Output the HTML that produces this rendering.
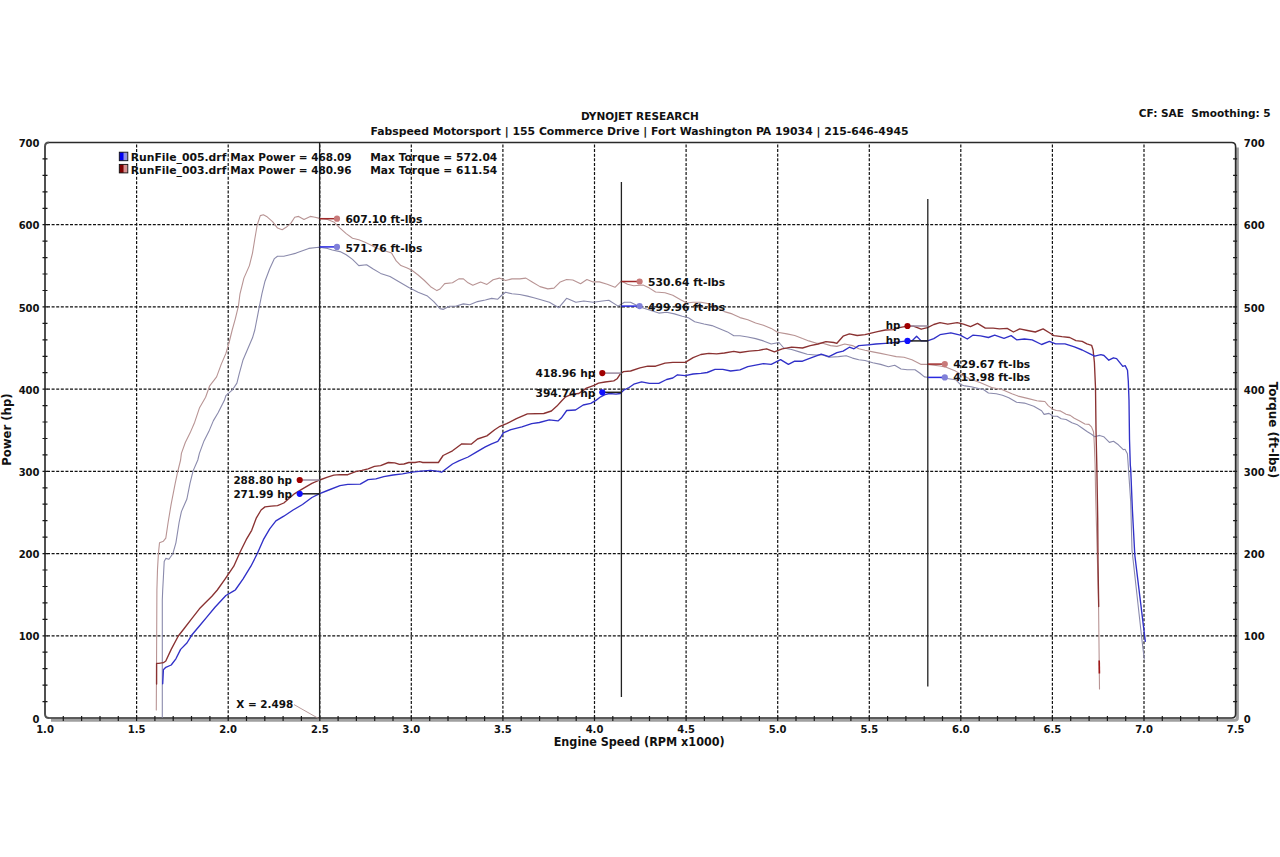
<!DOCTYPE html><html><head><meta charset="utf-8"><style>
html,body{margin:0;padding:0;background:#fff;width:1280px;height:857px;overflow:hidden}
svg{display:block}
text{font-family:"DejaVu Sans","Liberation Sans",sans-serif;font-weight:bold;font-size:10px;fill:#111}
</style></head><body>
<svg width="1280" height="857" viewBox="0 0 1280 857">
<text x="580.9" y="119.8" textLength="118.0" lengthAdjust="spacingAndGlyphs" style="font-size:10px" xml:space="preserve" >DYNOJET RESEARCH</text>
<text x="370.5" y="134.6" textLength="538.0" lengthAdjust="spacingAndGlyphs" style="font-size:10px" xml:space="preserve" >Fabspeed Motorsport | 155 Commerce Drive | Fort Washington PA 19034 | 215-646-4945</text>
<text x="1138.8" y="117.1" textLength="131.9" lengthAdjust="spacingAndGlyphs" style="font-size:10px" xml:space="preserve" >CF: SAE  Smoothing: 5</text>
<path d="M47.0,635.8H1234.6M47.0,553.6H1234.6M47.0,471.4H1234.6M47.0,389.1H1234.6M47.0,306.9H1234.6M47.0,224.7H1234.6M136.6,144.5V717.0M228.2,144.5V717.0M319.8,144.5V717.0M411.3,144.5V717.0M502.9,144.5V717.0M594.5,144.5V717.0M686.1,144.5V717.0M777.7,144.5V717.0M869.3,144.5V717.0M960.8,144.5V717.0M1052.4,144.5V717.0M1144.0,144.5V717.0" stroke="#111" stroke-width="1.2" stroke-dasharray="3,1.6" fill="none"/>
<path d="M1237.3999999999999,147.5V718.0Q1237.3999999999999,720.3 1234.6,720.3H51.0" stroke="#a0a0a0" stroke-width="3" fill="none"/>
<path d="M49.0,142.5H1231.6Q1235.6,142.5 1235.6,146.5V714.0Q1235.6,718.0 1231.6,718.0H49.0" stroke="#2a2a2a" stroke-width="1.6" fill="none"/>
<path d="M49.0,142.5Q45.0,142.5 45.0,146.5V714.0Q45.0,718.0 49.0,718.0" stroke="#505050" stroke-width="2" fill="none"/>
<path d="M42.5,701.6h5M1233.1,701.6h4M42.5,685.1h5M1233.1,685.1h4M42.5,668.7h5M1233.1,668.7h4M42.5,652.2h5M1233.1,652.2h4M42.5,635.8h5M1233.1,635.8h4M42.5,619.3h5M1233.1,619.3h4M42.5,602.9h5M1233.1,602.9h4M42.5,586.5h5M1233.1,586.5h4M42.5,570.0h5M1233.1,570.0h4M42.5,553.6h5M1233.1,553.6h4M42.5,537.1h5M1233.1,537.1h4M42.5,520.7h5M1233.1,520.7h4M42.5,504.2h5M1233.1,504.2h4M42.5,487.8h5M1233.1,487.8h4M42.5,471.4h5M1233.1,471.4h4M42.5,454.9h5M1233.1,454.9h4M42.5,438.5h5M1233.1,438.5h4M42.5,422.0h5M1233.1,422.0h4M42.5,405.6h5M1233.1,405.6h4M42.5,389.1h5M1233.1,389.1h4M42.5,372.7h5M1233.1,372.7h4M42.5,356.3h5M1233.1,356.3h4M42.5,339.8h5M1233.1,339.8h4M42.5,323.4h5M1233.1,323.4h4M42.5,306.9h5M1233.1,306.9h4M42.5,290.5h5M1233.1,290.5h4M42.5,274.0h5M1233.1,274.0h4M42.5,257.6h5M1233.1,257.6h4M42.5,241.2h5M1233.1,241.2h4M42.5,224.7h5M1233.1,224.7h4M42.5,208.3h5M1233.1,208.3h4M42.5,191.8h5M1233.1,191.8h4M42.5,175.4h5M1233.1,175.4h4M42.5,158.9h5M1233.1,158.9h4M63.3,721.0v-5M81.6,721.0v-5M100.0,721.0v-5M118.3,721.0v-5M136.6,721.0v-5M154.9,721.0v-5M173.2,721.0v-5M191.5,721.0v-5M209.9,721.0v-5M228.2,721.0v-5M246.5,721.0v-5M264.8,721.0v-5M283.1,721.0v-5M301.4,721.0v-5M319.8,721.0v-5M338.1,721.0v-5M356.4,721.0v-5M374.7,721.0v-5M393.0,721.0v-5M411.3,721.0v-5M429.7,721.0v-5M448.0,721.0v-5M466.3,721.0v-5M484.6,721.0v-5M502.9,721.0v-5M521.2,721.0v-5M539.6,721.0v-5M557.9,721.0v-5M576.2,721.0v-5M594.5,721.0v-5M612.8,721.0v-5M631.1,721.0v-5M649.5,721.0v-5M667.8,721.0v-5M686.1,721.0v-5M704.4,721.0v-5M722.7,721.0v-5M741.0,721.0v-5M759.4,721.0v-5M777.7,721.0v-5M796.0,721.0v-5M814.3,721.0v-5M832.6,721.0v-5M850.9,721.0v-5M869.3,721.0v-5M887.6,721.0v-5M905.9,721.0v-5M924.2,721.0v-5M942.5,721.0v-5M960.8,721.0v-5M979.2,721.0v-5M997.5,721.0v-5M1015.8,721.0v-5M1034.1,721.0v-5M1052.4,721.0v-5M1070.7,721.0v-5M1089.1,721.0v-5M1107.4,721.0v-5M1125.7,721.0v-5M1144.0,721.0v-5M1162.3,721.0v-5M1180.6,721.0v-5M1199.0,721.0v-5M1217.3,721.0v-5" stroke="#1a1a1a" stroke-width="1.2" fill="none"/>
<text x="39.5" y="722.6" text-anchor="end">0</text>
<text x="1243.8" y="722.6">0</text>
<text x="39.5" y="640.4" text-anchor="end">100</text>
<text x="1243.8" y="640.4">100</text>
<text x="39.5" y="558.2" text-anchor="end">200</text>
<text x="1243.8" y="558.2">200</text>
<text x="39.5" y="476.0" text-anchor="end">300</text>
<text x="1243.8" y="476.0">300</text>
<text x="39.5" y="393.7" text-anchor="end">400</text>
<text x="1243.8" y="393.7">400</text>
<text x="39.5" y="311.5" text-anchor="end">500</text>
<text x="1243.8" y="311.5">500</text>
<text x="39.5" y="229.3" text-anchor="end">600</text>
<text x="1243.8" y="229.3">600</text>
<text x="39.5" y="147.1" text-anchor="end">700</text>
<text x="1243.8" y="147.1">700</text>
<text x="45.0" y="733.2" text-anchor="middle">1.0</text>
<text x="136.6" y="733.2" text-anchor="middle">1.5</text>
<text x="228.2" y="733.2" text-anchor="middle">2.0</text>
<text x="319.8" y="733.2" text-anchor="middle">2.5</text>
<text x="411.3" y="733.2" text-anchor="middle">3.0</text>
<text x="502.9" y="733.2" text-anchor="middle">3.5</text>
<text x="594.5" y="733.2" text-anchor="middle">4.0</text>
<text x="686.1" y="733.2" text-anchor="middle">4.5</text>
<text x="777.7" y="733.2" text-anchor="middle">5.0</text>
<text x="869.3" y="733.2" text-anchor="middle">5.5</text>
<text x="960.8" y="733.2" text-anchor="middle">6.0</text>
<text x="1052.4" y="733.2" text-anchor="middle">6.5</text>
<text x="1144.0" y="733.2" text-anchor="middle">7.0</text>
<text x="1235.6" y="733.2" text-anchor="middle">7.5</text>
<text x="553.7" y="746.4" textLength="171.0" lengthAdjust="spacingAndGlyphs" style="font-size:11.4px" xml:space="preserve" >Engine Speed (RPM x1000)</text>
<text transform="translate(11.2,429.6) rotate(-90)" text-anchor="middle" textLength="72.5" lengthAdjust="spacingAndGlyphs" style="font-size:11.4px">Power (hp)</text>
<text transform="translate(1268.6,429.9) rotate(90)" text-anchor="middle" textLength="96.5" lengthAdjust="spacingAndGlyphs" style="font-size:11.4px">Torque (ft-lbs)</text>
<path d="M156.3,710.0 L156.9,590.0 L157.5,569.4 L158.4,553.8 L159.5,542.8 L163.4,541.2 L165.8,538.1 L168.1,522.5 L171.2,503.8 L175.2,483.4 L177.5,472.5 L180.6,460.0 L181.4,453.4 L185.3,442.5 L190.0,433.1 L194.7,422.2 L199.4,408.1 L205.6,397.2 L209.5,386.2 L216.6,376.9 L221.2,364.4 L225.9,353.4 L229.1,342.5 L232.2,330.0 L235.3,318.8 L238.4,306.2 L240.0,293.8 L243.9,278.1 L249.4,265.6 L252.5,253.1 L254.8,239.0 L257.2,225.0 L260.3,215.6 L263.4,214.8 L266.6,216.4 L272.8,221.9 L277.5,228.1 L282.2,229.7 L286.1,227.3 L290.8,223.4 L294.7,217.2 L298.6,216.4 L304.0,219.5 L310.3,216.4 L315.0,217.2 L319.7,218.4 L327.5,219.5 L333.8,221.9 L340.0,228.1 L346.2,233.6 L352.5,238.3 L358.8,239.8 L365.0,242.2 L371.2,245.3 L377.5,248.4 L386.9,251.6 L391.6,253.1 L396.2,260.9 L400.9,265.6 L407.2,268.0 L411.9,270.3 L418.1,275.0 L424.4,280.5 L430.6,286.7 L436.9,290.6 L440.0,289.0 L444.7,283.6 L452.5,282.8 L458.8,278.9 L463.4,278.9 L468.1,282.8 L472.8,285.2 L480.6,282.0 L486.9,284.4 L493.1,279.7 L499.4,278.1 L505.6,280.5 L511.9,278.9 L519.7,278.9 L525.9,278.1 L532.2,282.0 L540.0,286.6 L547.8,288.9 L554.0,288.1 L560.3,281.9 L566.6,279.5 L572.8,280.0 L580.6,283.8 L586.9,279.5 L593.1,281.9 L599.4,281.9 L607.2,284.2 L615.0,287.3 L621.2,281.1 L627.5,284.2 L633.8,285.8 L643.1,285.0 L649.4,288.1 L655.6,292.0 L665.0,292.8 L672.8,295.2 L680.6,299.8 L686.9,303.0 L693.1,302.2 L700.9,302.2 L708.8,303.8 L716.6,307.7 L724.4,311.6 L732.2,313.9 L740.0,317.6 L747.8,319.8 L755.6,323.0 L763.4,325.3 L771.2,328.4 L777.5,332.3 L786.9,333.9 L794.7,335.5 L802.5,338.6 L808.8,340.9 L816.6,343.3 L822.8,343.3 L830.6,345.6 L836.9,346.4 L844.7,344.0 L852.5,345.6 L858.8,348.8 L865.0,350.3 L872.8,351.9 L880.6,353.4 L888.4,355.0 L896.2,356.6 L904.0,357.3 L911.9,359.7 L921.2,364.4 L927.5,364.4 L940.0,366.0 L946.2,367.2 L955.6,371.1 L962.0,375.0 L970.0,379.0 L980.6,382.8 L991.6,387.5 L1002.5,389.8 L1011.9,393.8 L1018.1,396.1 L1027.5,398.4 L1036.9,400.8 L1040.0,401.1 L1044.9,401.5 L1048.2,405.6 L1052.3,408.9 L1056.3,410.5 L1060.4,410.9 L1066.1,414.2 L1070.2,415.4 L1074.3,418.3 L1079.2,420.7 L1084.9,424.0 L1089.0,424.4 L1091.5,426.9 L1093.5,431.8 L1093.9,436.7 L1094.3,444.0 L1095.1,465.0 L1095.6,493.5 L1098.5,600.0 L1099.5,689.0" stroke="#b89494" stroke-width="1.1" fill="none" stroke-linejoin="round" stroke-linecap="round" />
<path d="M162.3,717.3 L162.3,600.0 L162.7,590.0 L163.4,577.2 L164.2,561.6 L165.8,558.4 L168.9,559.2 L172.8,553.8 L175.9,542.8 L179.1,522.5 L181.4,511.6 L186.9,499.0 L190.0,483.4 L193.1,470.9 L197.8,460.0 L199.4,453.4 L204.0,440.9 L208.8,431.6 L213.4,420.6 L218.1,412.8 L224.4,400.3 L225.9,395.6 L232.2,390.2 L236.9,383.1 L239.2,373.8 L243.1,359.7 L247.8,348.8 L252.5,337.8 L254.8,330.0 L258.8,309.4 L261.9,293.8 L265.0,281.2 L269.7,268.8 L274.4,258.6 L277.5,256.2 L283.8,256.2 L290.0,254.7 L296.2,253.1 L302.5,250.8 L308.8,248.4 L318.9,247.3 L327.5,248.4 L332.2,250.0 L340.0,251.6 L346.2,254.7 L352.5,259.4 L358.8,265.6 L366.6,264.8 L372.8,268.8 L380.6,273.4 L390.0,276.6 L399.4,282.0 L408.8,287.5 L418.1,292.2 L427.5,296.1 L433.8,301.6 L440.0,308.6 L443.1,309.4 L449.4,306.2 L455.6,306.2 L463.4,303.9 L469.7,304.7 L477.5,301.6 L485.3,300.0 L491.6,298.4 L497.8,299.2 L502.5,294.5 L505.6,292.2 L511.9,293.8 L519.7,294.5 L527.5,296.1 L533.8,297.7 L540.0,299.5 L549.4,302.2 L558.8,307.7 L566.6,298.3 L575.9,302.2 L583.8,301.0 L593.1,302.2 L602.5,301.0 L608.8,300.3 L618.1,306.1 L624.4,302.2 L630.6,302.2 L640.0,306.9 L649.4,310.0 L658.8,313.1 L666.6,312.3 L674.4,313.9 L682.2,316.2 L688.4,317.8 L694.7,321.7 L704.0,324.0 L711.9,325.6 L719.7,328.8 L727.5,331.9 L733.8,335.8 L740.0,335.8 L747.8,337.0 L755.6,338.6 L763.4,340.9 L771.2,344.0 L779.0,342.5 L783.8,348.0 L791.6,349.5 L799.4,351.9 L807.2,354.2 L815.0,355.0 L822.8,355.0 L829.0,357.3 L838.4,356.6 L846.2,355.8 L852.5,358.1 L858.8,359.7 L865.0,360.5 L872.8,362.8 L880.6,364.4 L888.4,366.7 L894.7,365.2 L901.0,369.0 L907.2,369.8 L915.0,369.8 L919.7,373.0 L924.4,376.9 L927.5,377.2 L940.0,377.5 L955.6,379.7 L960.3,384.4 L965.0,385.9 L971.2,386.7 L977.5,388.3 L983.8,389.8 L988.4,393.0 L996.2,393.8 L1002.5,395.3 L1008.8,397.7 L1016.6,402.3 L1024.4,403.1 L1033.8,406.2 L1041.6,410.8 L1044.1,414.4 L1049.0,413.4 L1053.1,416.2 L1057.2,416.2 L1061.2,418.7 L1066.1,419.5 L1071.9,422.8 L1076.8,424.4 L1081.7,427.7 L1087.4,431.8 L1091.5,434.2 L1094.7,436.7 L1099.6,435.4 L1103.7,436.7 L1109.4,442.4 L1113.5,441.2 L1118.4,444.8 L1123.3,449.7 L1125.0,449.3 L1127.4,453.8 L1128.2,465.0 L1130.7,501.7 L1132.0,550.0 L1142.3,643.0 L1144.3,659.0" stroke="#8a8aac" stroke-width="1.1" fill="none" stroke-linejoin="round" stroke-linecap="round" />
<path d="M156.6,684.0 L156.6,663.4 L158.8,663.4 L163.4,662.7 L165.8,661.0 L171.2,649.4 L178.3,636.0 L183.8,629.0 L191.6,618.9 L199.4,608.8 L205.6,602.5 L211.9,596.2 L217.3,590.0 L225.2,578.8 L233.8,566.2 L240.0,552.2 L246.2,539.7 L251.7,530.3 L256.4,517.8 L261.1,510.0 L265.0,506.9 L271.2,506.1 L277.5,505.6 L283.8,503.0 L288.4,499.0 L294.7,493.6 L302.5,488.9 L311.9,483.4 L319.7,480.0 L327.5,477.2 L333.8,475.2 L340.0,474.7 L347.8,474.7 L355.6,471.6 L361.9,470.3 L368.1,468.8 L374.4,466.4 L380.6,465.6 L388.4,462.5 L394.7,462.8 L399.4,464.4 L404.0,464.0 L408.8,462.5 L415.0,462.5 L419.7,461.7 L422.8,462.5 L430.6,462.5 L438.4,462.5 L443.1,455.5 L452.5,450.8 L461.9,443.8 L471.2,444.2 L477.5,439.0 L486.9,435.9 L494.7,429.7 L500.0,426.3 L506.6,423.6 L516.4,418.7 L527.4,413.8 L543.8,413.5 L551.4,411.0 L556.9,406.1 L561.3,401.2 L565.6,396.8 L572.2,394.1 L578.8,393.5 L586.4,388.1 L594.1,385.3 L598.5,383.1 L605.0,382.0 L613.8,380.9 L617.1,378.8 L620.3,373.8 L623.6,371.6 L630.6,371.0 L640.0,367.8 L647.8,366.2 L655.6,366.2 L665.0,363.1 L672.8,362.3 L685.3,362.3 L693.1,357.7 L700.9,354.5 L708.8,353.4 L716.6,353.8 L724.4,353.0 L733.8,351.4 L740.0,352.5 L749.4,351.1 L758.8,350.3 L766.6,348.8 L774.4,351.9 L782.2,348.8 L791.6,347.2 L802.5,348.0 L810.3,345.6 L818.1,344.0 L825.9,341.7 L833.8,342.5 L836.9,343.3 L843.1,336.2 L849.4,333.9 L857.2,335.5 L865.0,334.7 L871.2,333.1 L877.5,331.6 L885.3,330.0 L893.1,329.7 L899.4,327.7 L907.2,326.1 L913.4,326.1 L921.2,329.2 L927.5,327.7 L933.8,324.5 L940.0,322.7 L947.8,324.2 L957.2,322.7 L963.4,324.2 L970.5,326.6 L977.5,323.4 L985.3,328.1 L993.1,328.1 L999.4,328.9 L1007.2,328.4 L1013.4,332.0 L1019.7,328.9 L1027.5,330.5 L1035.3,332.0 L1043.1,328.9 L1049.4,332.8 L1054.0,335.6 L1061.9,336.7 L1069.7,337.5 L1075.9,340.6 L1082.2,341.4 L1086.9,343.8 L1091.6,345.3 L1093.1,350.0 L1094.4,362.5 L1095.5,387.5 L1096.0,430.0 L1096.8,465.0 L1097.7,518.0 L1098.0,560.0 L1098.7,606.5" stroke="#8a3232" stroke-width="1.35" fill="none" stroke-linejoin="round" stroke-linecap="round" />
<path d="M162.7,683.8 L163.4,669.7 L165.8,667.3 L171.2,665.0 L175.9,658.8 L180.6,649.4 L186.9,643.0 L191.6,635.3 L199.4,626.0 L207.2,616.6 L215.0,607.2 L225.9,595.5 L233.8,590.8 L235.3,590.0 L243.1,578.8 L250.9,566.2 L257.2,553.8 L263.4,539.7 L269.7,528.8 L275.9,520.9 L283.8,516.2 L293.1,510.0 L302.5,504.5 L311.9,497.5 L319.7,493.6 L327.5,490.5 L340.0,485.6 L347.8,484.4 L360.3,484.1 L368.1,479.7 L375.9,478.9 L383.8,476.6 L393.1,475.0 L402.5,473.8 L411.9,472.2 L421.2,471.1 L430.6,470.3 L436.9,471.1 L441.6,472.2 L446.2,468.8 L452.5,464.0 L458.8,460.9 L468.1,457.0 L475.9,452.3 L485.3,446.9 L491.6,443.8 L497.8,441.4 L500.5,437.5 L503.3,432.9 L510.9,429.6 L521.9,426.9 L531.7,423.6 L539.4,422.5 L549.2,419.8 L558.0,420.9 L561.3,418.1 L566.7,410.5 L575.5,410.0 L583.2,405.0 L590.8,403.4 L596.3,400.1 L600.7,396.8 L605.0,394.6 L609.4,393.5 L616.0,394.1 L620.3,393.5 L623.6,390.2 L629.1,387.5 L633.8,384.2 L641.6,381.9 L649.4,383.4 L658.8,383.4 L666.6,379.5 L672.8,378.0 L677.5,374.8 L685.3,375.6 L693.1,374.0 L700.9,373.3 L707.2,372.5 L715.0,369.4 L722.8,369.4 L730.6,371.0 L740.0,369.8 L747.8,366.7 L755.6,365.2 L763.4,363.6 L771.2,364.4 L780.6,359.7 L788.4,364.4 L794.7,361.2 L802.5,361.2 L810.3,358.1 L821.2,354.2 L829.0,356.6 L836.9,352.7 L843.1,351.1 L849.4,347.2 L854.0,348.8 L858.8,345.6 L868.1,344.8 L875.9,344.0 L885.3,343.3 L894.7,342.5 L901.0,341.7 L907.2,340.9 L911.9,340.9 L916.6,336.2 L921.2,340.9 L927.5,340.9 L933.8,338.6 L940.0,334.7 L950.9,332.8 L960.3,335.2 L967.3,339.0 L972.8,335.2 L980.6,335.9 L988.4,337.5 L994.7,335.2 L1004.0,338.3 L1011.1,335.6 L1016.6,339.8 L1024.4,339.0 L1032.2,339.8 L1041.6,344.5 L1049.4,341.4 L1055.6,343.8 L1065.0,343.8 L1074.4,346.9 L1082.2,350.0 L1090.0,353.9 L1094.7,356.2 L1100.9,354.7 L1104.0,355.5 L1108.8,360.2 L1113.4,357.8 L1116.6,358.6 L1122.8,366.4 L1125.2,365.6 L1127.5,370.3 L1128.3,381.2 L1129.0,400.0 L1129.5,439.0 L1130.3,465.0 L1130.7,469.0 L1132.4,509.9 L1134.8,555.0 L1145.3,641.3" stroke="#3030c8" stroke-width="1.35" fill="none" stroke-linejoin="round" stroke-linecap="round" />
<path d="M1099.2,660.5L1099.4,673.5" stroke="#a01818" stroke-width="1.6" fill="none"/>
<path d="M319.6,142V718M621.4,182V697M927.8,199V686.5" stroke="#222" stroke-width="1.3" fill="none"/>
<path d="M294,704.6L318.4,718.4" stroke="#b09090" stroke-width="0.9" fill="none"/>
<text x="236.3" y="707.9" textLength="57.0" lengthAdjust="spacingAndGlyphs" style="font-size:10px" xml:space="preserve" >X = 2.498</text>
<path d="M319.6,218.7H337" stroke="#a02a2a" stroke-width="1.5"/>
<circle cx="337" cy="218.7" r="3.1" fill="#c87a7a"/>
<text x="345.4" y="222.7" textLength="77.0" lengthAdjust="spacingAndGlyphs" style="font-size:10px" xml:space="preserve" >607.10 ft-lbs</text>
<path d="M319.6,246.9H337" stroke="#2a2ae0" stroke-width="1.5"/>
<circle cx="337" cy="246.9" r="3.1" fill="#8080d8"/>
<text x="345.4" y="251.5" textLength="77.0" lengthAdjust="spacingAndGlyphs" style="font-size:10px" xml:space="preserve" >571.76 ft-lbs</text>
<path d="M621.4,281.5H639.6" stroke="#a02a2a" stroke-width="1.5"/>
<circle cx="639.6" cy="281.5" r="3.1" fill="#c87a7a"/>
<text x="648.1" y="285.9" textLength="77.0" lengthAdjust="spacingAndGlyphs" style="font-size:10px" xml:space="preserve" >530.64 ft-lbs</text>
<path d="M621.4,306.1H639.6" stroke="#2a2ae0" stroke-width="1.5"/>
<circle cx="639.6" cy="306.1" r="3.1" fill="#8080d8"/>
<text x="648.1" y="310.5" textLength="77.0" lengthAdjust="spacingAndGlyphs" style="font-size:10px" xml:space="preserve" >499.96 ft-lbs</text>
<path d="M927.8,364.1H944.8" stroke="#a02a2a" stroke-width="1.5"/>
<circle cx="944.8" cy="364.1" r="3.1" fill="#c87a7a"/>
<text x="953.3" y="367.8" textLength="76.9" lengthAdjust="spacingAndGlyphs" style="font-size:10px" xml:space="preserve" >429.67 ft-lbs</text>
<path d="M927.8,377.4H944.8" stroke="#2a2ae0" stroke-width="1.5"/>
<circle cx="944.8" cy="377.4" r="3.1" fill="#8080d8"/>
<text x="953.3" y="381.1" textLength="76.9" lengthAdjust="spacingAndGlyphs" style="font-size:10px" xml:space="preserve" >413.98 ft-lbs</text>
<path d="M319.6,480.0H299.7" stroke="#9a8aa0" stroke-width="1.5"/>
<circle cx="299.7" cy="480.0" r="3.1" fill="#a00000"/>
<text x="233.4" y="483.9" textLength="58.6" lengthAdjust="spacingAndGlyphs" style="font-size:10px" xml:space="preserve" >288.80 hp</text>
<path d="M319.6,493.8H299.7" stroke="#202020" stroke-width="1.5"/>
<circle cx="299.7" cy="493.8" r="3.1" fill="#1010ff"/>
<text x="233.4" y="498.0" textLength="58.6" lengthAdjust="spacingAndGlyphs" style="font-size:10px" xml:space="preserve" >271.99 hp</text>
<path d="M621.4,373.1H602.3" stroke="#9a8aa0" stroke-width="1.5"/>
<circle cx="602.3" cy="373.1" r="3.1" fill="#a00000"/>
<text x="535.5" y="377.3" textLength="59.9" lengthAdjust="spacingAndGlyphs" style="font-size:10px" xml:space="preserve" >418.96 hp</text>
<path d="M621.4,392.3H602.3" stroke="#202020" stroke-width="1.5"/>
<circle cx="602.3" cy="392.3" r="3.1" fill="#1010ff"/>
<text x="535.5" y="397.0" textLength="59.9" lengthAdjust="spacingAndGlyphs" style="font-size:10px" xml:space="preserve" >394.74 hp</text>
<path d="M927.8,326.0H907.5" stroke="#9a8aa0" stroke-width="1.5"/>
<circle cx="907.5" cy="326.0" r="3.1" fill="#a00000"/>
<text x="885.8" y="329.1" textLength="14.6" lengthAdjust="spacingAndGlyphs" style="font-size:10px" xml:space="preserve" >hp</text>
<path d="M927.8,340.9H907.5" stroke="#202020" stroke-width="1.5"/>
<circle cx="907.5" cy="340.9" r="3.1" fill="#1010ff"/>
<text x="885.8" y="343.6" textLength="14.6" lengthAdjust="spacingAndGlyphs" style="font-size:10px" xml:space="preserve" >hp</text>
<rect x="119.3" y="152.2" width="4.5" height="8.5" fill="#0000f0"/><rect x="123.8" y="152.2" width="4" height="8.5" fill="#9090e0"/><rect x="119.3" y="152.2" width="8.5" height="8.5" fill="none" stroke="#111" stroke-width="0.9"/>
<rect x="119.3" y="164.4" width="4.5" height="8.5" fill="#800000"/><rect x="123.8" y="164.4" width="4" height="8.5" fill="#d89090"/><rect x="119.3" y="164.4" width="8.5" height="8.5" fill="none" stroke="#111" stroke-width="0.9"/>
<text x="130.7" y="161.4" textLength="95.7" lengthAdjust="spacingAndGlyphs" style="font-size:10px" xml:space="preserve" >RunFile_005.drf</text>
<text x="230.3" y="161.4" textLength="121.3" lengthAdjust="spacingAndGlyphs" style="font-size:10px" xml:space="preserve" >Max Power = 468.09</text>
<text x="370.2" y="161.4" textLength="127.1" lengthAdjust="spacingAndGlyphs" style="font-size:10px" xml:space="preserve" >Max Torque = 572.04</text>
<text x="130.7" y="173.7" textLength="95.7" lengthAdjust="spacingAndGlyphs" style="font-size:10px" xml:space="preserve" >RunFile_003.drf</text>
<text x="230.3" y="173.7" textLength="121.3" lengthAdjust="spacingAndGlyphs" style="font-size:10px" xml:space="preserve" >Max Power = 480.96</text>
<text x="370.2" y="173.7" textLength="127.1" lengthAdjust="spacingAndGlyphs" style="font-size:10px" xml:space="preserve" >Max Torque = 611.54</text>
</svg></body></html>
